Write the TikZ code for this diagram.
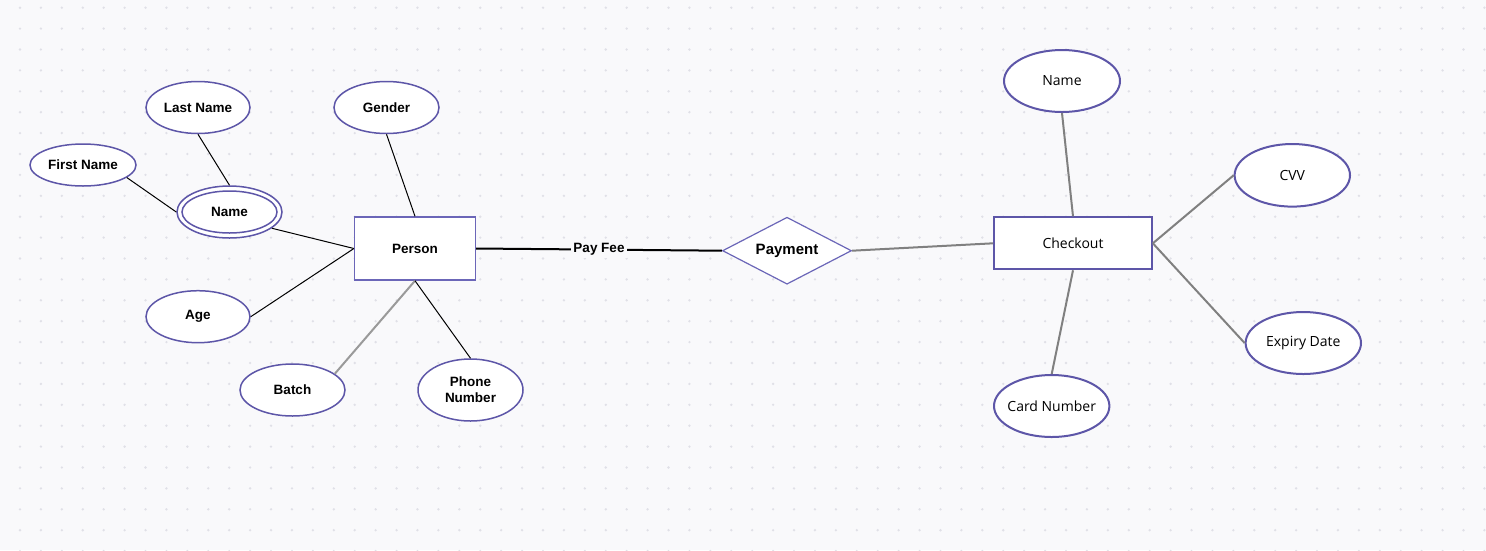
\documentclass[tikz,border=0pt]{standalone}
\usepackage{fontspec}
\setmainfont{Liberation Sans}
\newfontfamily\opensans{Open Sans}
\usetikzlibrary{shapes.geometric}
\definecolor{bgc}{HTML}{F9F9FB}
\definecolor{dotc}{HTML}{E0E0E7}
\definecolor{erc}{HTML}{5D56A8}
\definecolor{erl}{HTML}{6B66B8}
\definecolor{gl}{HTML}{808080}
\definecolor{gb}{HTML}{9A9A9A}
\tikzset{
  attrL/.style={ellipse,draw=erc,line width=1.5pt,fill=white,inner sep=0pt,
    font=\bfseries\fontsize{13.5}{16}\selectfont,align=center},
  attrR/.style={ellipse,draw=erc,line width=2pt,fill=white,inner sep=0pt,
    inner xsep=-4pt,font=\opensans\fontsize{14}{16}\selectfont},
  entL/.style={rectangle,draw=erl,line width=1.5pt,fill=white,inner sep=0pt,
    font=\bfseries\fontsize{13.5}{16}\selectfont},
  entR/.style={rectangle,draw=erc,line width=2pt,fill=white,inner sep=0pt,
    font=\opensans\fontsize{14}{16}\selectfont},
  relship/.style={diamond,draw=erl,line width=1.2pt,fill=white,inner sep=0pt,
    aspect=1.93,font=\bfseries\fontsize{15}{18}\selectfont},
  blk/.style={draw=black,line width=1pt},
  gry/.style={draw=gl,line width=2pt},
  gryb/.style={draw=gb,line width=2pt},
}
\begin{document}
\begin{tikzpicture}[x=1pt,y=-1pt]
\fill[bgc] (0,0) rectangle (1486,550);
\useasboundingbox (0,0) rectangle (1486,550);
\foreach \i in {0,...,70}{
  \foreach \j in {0,...,26}{
    \fill[dotc] ({20+20.92*\i},{7.7+20.9*\j}) circle (1.3);
  }
}
% left cluster
\node[attrL,minimum width=104,minimum height=52] (ln) at (198,107.5) {Last Name};
\node[attrL,minimum width=105,minimum height=52] (gd) at (386.5,107.5) {Gender};
\node[attrL,minimum width=106,minimum height=42] (fn) at (83,165) {First Name};
\node[attrL,minimum width=105,minimum height=52] (nm) at (229.5,212) {};
\draw[erc,line width=1.5pt] (nm.center) ellipse [x radius=47.5,y radius=21];
\node[font=\bfseries\fontsize{13.5}{16}\selectfont] (nmt) at (nm.center) {Name};
\node[entL,minimum width=120.7,minimum height=63] (p) at (415,248.5) {Person};
\node[attrL,minimum width=104,minimum height=52] (age) at (198,316.7) {Age};
\node[attrL,minimum width=105,minimum height=52] (bt) at (292.5,390) {Batch};
\node[attrL,minimum width=105,minimum height=62] (ph) at (470.5,390) {Phone\\Number};
\draw[blk] (ln.south) -- (nm.north);
\draw[blk] (fn.-16) -- (nm.west);
\draw[blk] (nm.-21) -- (p.west);
\draw[blk] (age.east) -- (p.west);
\draw[blk] (gd.south) -- (p.north);
\draw[gryb] (p.south) -- (bt.21);
\draw[blk] (p.south) -- (ph.north);
% relationship
\node[relship,minimum width=129,minimum height=67] (pay) at (787,250.7) {Payment};
\draw[draw=black,line width=2pt] (p.east) -- node[fill=bgc,inner sep=2pt,
  font=\bfseries\fontsize{13.5}{16}\selectfont] (pf) {Pay Fee} (pay.west);
% right cluster
\node[entR,minimum width=157.7,minimum height=52] (co) at (1073,243.3) {Checkout};
\draw[gry] (pay.east) -- (co.west);
\node[attrR,minimum width=116,minimum height=62] (n2) at (1062,81) {Name};
\node[attrR,minimum width=115.4,minimum height=62.6] (cvv) at (1292.3,175.3) {CVV};
\node[attrR,minimum width=115.4,minimum height=62] (ex) at (1303.3,343) {Expiry Date};
\node[attrR,minimum width=115.4,minimum height=62] (cn) at (1051.7,406) {Card Number};
\draw[gry] (n2.south) -- (co.north);
\draw[gry] (cvv.west) -- (co.east);
\draw[gry] (ex.west) -- (co.east);
\draw[gry] (cn.north) -- (co.south);
\end{tikzpicture}
\end{document}
